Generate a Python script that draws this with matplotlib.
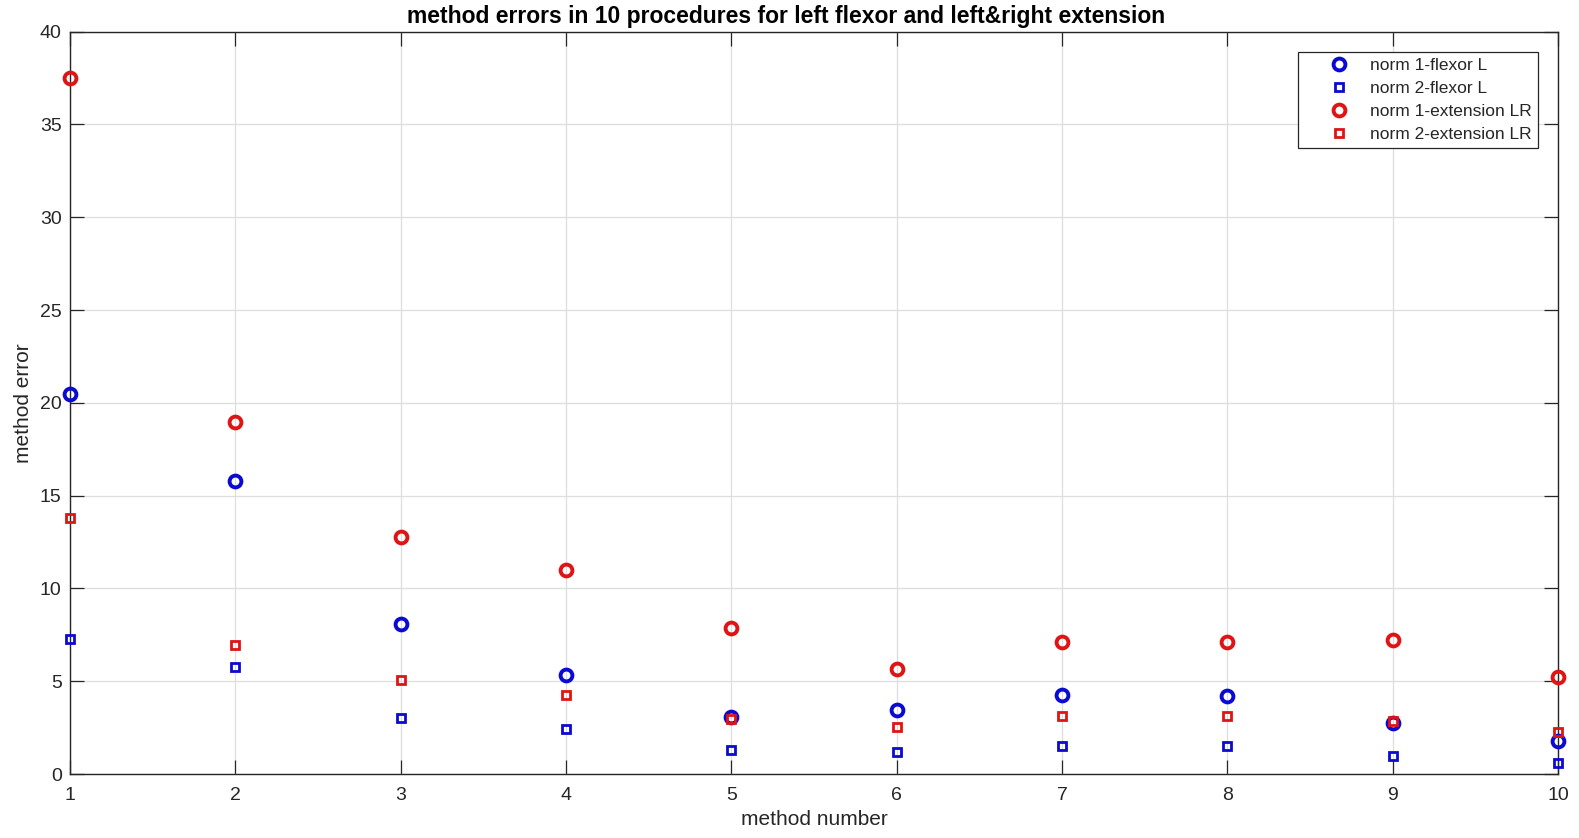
import matplotlib
matplotlib.use("Agg")
import matplotlib.pyplot as plt
from matplotlib import font_manager

# data
method_number = [1, 2, 3, 4, 5, 6, 7, 8, 9, 10]
norm1_flexor_L = [20.5, 15.77, 8.1, 5.33, 3.09, 3.43, 4.26, 4.22, 2.73, 1.78]
norm2_flexor_L = [7.26, 5.75, 3.02, 2.41, 1.29, 1.17, 1.51, 1.51, 0.97, 0.6]
norm1_extension_LR = [37.48, 18.97, 12.78, 10.99, 7.85, 5.66, 7.09, 7.09, 7.24, 5.24]
norm2_extension_LR = [13.81, 6.95, 5.06, 4.24, 2.96, 2.53, 3.12, 3.12, 2.84, 2.24]

x_ticks = [1, 2, 3, 4, 5, 6, 7, 8, 9, 10]
y_ticks = [0, 5, 10, 15, 20, 25, 30, 35, 40]

plt.rcParams['font.family'] = ['Liberation Sans', 'DejaVu Sans']

# regular-width bold face for the title (avoid the Narrow variant)
bold_file = None
for f in font_manager.fontManager.ttflist:
    if (f.name == 'Liberation Sans' and f.weight in (700, 'bold')
            and f.style == 'normal' and 'Narrow' not in f.fname):
        bold_file = f.fname
        break
if bold_file:
    title_font = font_manager.FontProperties(fname=bold_file, size=16.5)
else:
    title_font = font_manager.FontProperties(family='DejaVu Sans', weight='bold', size=15)

blue = '#0a0ad2'
red = '#e01414'
axis_col = '#262626'

W, H = 1579, 838
fig = plt.figure(figsize=(W / 100, H / 100), dpi=100)
ax = fig.add_axes([70 / W, 1 - 774 / H, (1558 - 70) / W, (774 - 31.7) / H])

circle_kw = dict(ls='none', mfc='none', ms=8.5, mew=2.8, clip_on=False, zorder=3)
square_kw = dict(ls='none', mfc='none', ms=5.5, mew=2.0, clip_on=False, zorder=3)

ax.plot(method_number, norm1_flexor_L, 'o', mec=blue, label='norm 1-flexor L', **circle_kw)
ax.plot(method_number, norm2_flexor_L, 's', mec=blue, label='norm 2-flexor L', **square_kw)
ax.plot(method_number, norm1_extension_LR, 'o', mec=red, label='norm 1-extension LR', **circle_kw)
ax.plot(method_number, norm2_extension_LR, 's', mec=red, label='norm 2-extension LR', **square_kw)

ax.set_xlim(1, 10)
ax.set_ylim(0, 40)
ax.set_xticks(x_ticks)
ax.set_yticks(y_ticks)

ax.grid(True, color='#dedede', linewidth=0.9)
ax.set_axisbelow(True)
ax.tick_params(direction='in', length=10, width=0.9, color=axis_col,
               labelcolor=axis_col, labelsize=14, top=True, right=True)
ax.tick_params(axis='x', pad=9)
ax.tick_params(axis='y', pad=6)
for s in ax.spines.values():
    s.set_color(axis_col)
    s.set_linewidth(1.0)

ax.set_title('method errors in 10 procedures for left flexor and left&right extension',
             fontproperties=title_font, color='black', pad=6, x=0.4815)
ax.set_xlabel('method number', fontsize=15, color=axis_col, labelpad=5)
ax.set_ylabel('method error', fontsize=15, color=axis_col, labelpad=5)

leg = ax.legend(loc='upper right', bbox_to_anchor=(1538 / W, 1 - 51.7 / H),
                bbox_transform=fig.transFigure, borderaxespad=0, fontsize=12.5,
                fancybox=False, framealpha=1, edgecolor=axis_col,
                handlelength=4.0, handletextpad=-0.22, labelspacing=0.45,
                borderpad=0.35)
leg.get_frame().set_linewidth(0.9)
for t in leg.get_texts():
    t.set_color(axis_col)

fig.savefig('out.png', dpi=100)
